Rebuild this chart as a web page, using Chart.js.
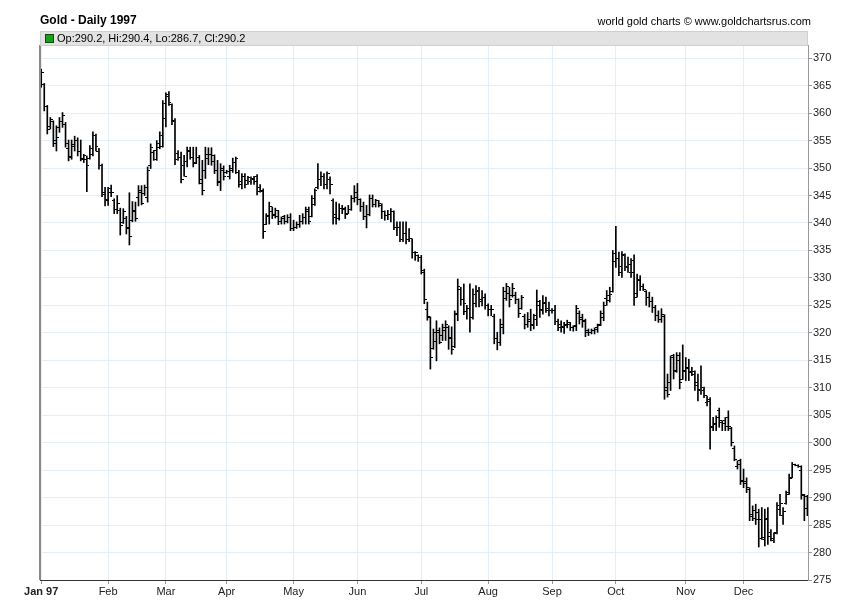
<!DOCTYPE html>
<html>
<head>
<meta charset="utf-8">
<title>Gold - Daily 1997</title>
<script src="https://cdn.jsdelivr.net/npm/chart.js@4.4.0/dist/chart.umd.min.js"></script>
<style>
  body { margin: 0; background: #fff; font-family: "Liberation Sans", Arial, sans-serif; color: #000; }
  #wrap { position: relative; width: 850px; height: 616px; }
  #wrap canvas { position: absolute; left: 0; top: 0; }
  .title { position: absolute; left: 40px; top: 13px; font-size: 12px; font-weight: bold; line-height: 14px; }
  .credit { position: absolute; right: 39px; top: 14px; font-size: 11px; line-height: 14px; }
  .band { position: absolute; left: 40px; top: 31px; width: 766px; height: 13px; background: #e2e2e2; border: 1px solid #cfcfcf; }
  .band .sq { position: absolute; left: 4px; top: 2px; width: 7px; height: 7px; background: #17a017; border: 1px solid #0b4d0b; }
  .band .txt { position: absolute; left: 16px; top: 0; font-size: 11px; line-height: 13px; }
</style>
</head>
<body>
<div id="wrap">
  <canvas id="goldChart" width="850" height="616"></canvas>
  <div class="title">Gold - Daily 1997</div>
  <div class="credit">world gold charts © www.goldchartsrus.com</div>
  <div class="band"><div class="sq"></div><div class="txt">Op:290.2, Hi:290.4, Lo:286.7, Cl:290.2</div></div>
</div>
<script>
// daily bars per month: [open, high, low, close]
const jan = [
  [367.0,368.0,364.7,367.4],[365.2,365.4,360.4,361.2],[361.2,361.4,356.2,357.0],[357.6,359.2,357.1,358.8],
  [358.5,358.6,353.9,354.5],[355.0,357.7,353.1,355.5],[357.4,359.2,356.5,358.5],[358.5,360.1,357.4,359.6],
  [358.0,358.3,353.8,354.5],[353.6,355.1,351.3,352.0],[352.1,355.1,351.6,354.0],[354.2,355.8,353.1,355.0],
  [355.1,355.5,352.2,353.0],[353.0,355.1,351.3,351.5],[351.8,352.5,351.0,352.2],[351.5,352.2,345.7,350.4],
  [351.8,354.1,351.6,353.5],[352.5,356.6,352.2,356.0],[355.9,356.2,353.1,354.0],[353.0,353.6,349.8,350.5],
  [350.5,350.7,344.8,345.5],[345.1,346.5,343.1,344.0]
];
const feb = [
  [344.2,346.5,343.2,345.5],[346.3,346.9,344.8,345.6],[344.0,344.4,341.7,342.5],[342.5,345.0,341.7,343.5],
  [342.3,342.7,337.8,339.5],[340.0,342.6,339.9,342.1],[340.9,341.2,338.0,339.0],[339.2,345.5,336.0,337.5],
  [340.5,343.9,340.2,342.2],[342.0,343.8,340.3,340.9],[344.7,346.8,343.1,346.0],[345.5,346.8,343.3,343.6],
  [345.3,346.9,345.0,346.5],[344.7,350.2,343.8,349.5],[350.5,354.4,349.9,353.8],[352.8,353.2,351.4,351.6],
  [353.2,355.0,351.4,354.5],[353.8,356.6,353.5,356.0],[354.0,362.3,353.8,361.8]
];
const mar = [
  [359.0,363.7,357.5,363.0],[363.4,363.9,361.4,362.0],[361.5,361.7,357.9,358.5],[358.7,359.0,350.6,351.5],
  [352.6,353.2,351.4,352.0],[352.0,352.9,347.3,348.0],[350.5,352.3,348.5,348.5],[351.1,353.8,350.2,353.0],
  [353.2,353.8,351.6,352.0],[352.0,353.8,350.2,350.8],[351.0,353.8,350.8,352.0],[352.0,352.3,347.1,348.0],
  [347.1,351.4,345.1,346.0],[349.6,353.8,348.1,352.5],[351.7,353.7,350.6,352.5],[352.5,353.7,350.5,351.2],
  [352.3,352.4,349.0,349.5],[349.6,351.4,346.8,347.5],[347.3,350.8,345.9,349.5],[349.9,350.4,347.8,348.5]
];
const apr = [
  [349.2,349.6,349.0,349.4],[348.5,350.5,348.0,350.0],[349.5,351.8,349.2,351.0],[351.0,352.0,349.0,351.7],
  [349.2,349.6,346.5,347.5],[347.0,349.0,346.2,348.4],[348.4,349.0,346.4,347.0],[347.8,348.5,347.0,348.2],
  [347.5,348.4,347.0,348.1],[348.0,348.5,347.0,347.6],[348.4,348.8,345.1,345.8],[346.4,347.0,345.6,345.9],
  [345.8,346.2,337.2,338.5],[339.8,341.7,339.7,341.4],[341.1,343.8,339.8,343.0],[342.1,342.9,340.8,341.5],
  [341.3,342.7,340.9,342.2],[341.1,342.3,339.7,340.2],[340.2,341.1,339.8,340.8],[341.1,341.4,339.8,340.2],
  [340.3,341.5,340.0,341.0],[341.0,341.7,338.6,339.0]
];
const may = [
  [339.0,340.5,338.6,339.2],[339.2,340.2,339.0,339.8],[339.8,341.4,339.2,340.2],[340.2,341.7,339.8,341.0],
  [341.0,342.9,339.8,342.5],[342.0,342.9,339.8,340.2],[341.2,345.0,341.1,344.5],[343.3,346.2,343.2,346.0],
  [346.5,350.8,346.2,348.0],[348.0,349.3,346.8,348.5],[348.5,349.0,346.2,347.0],[347.0,349.3,346.2,349.0],
  [348.0,348.4,345.3,347.0],[344.1,344.4,339.8,341.0],[341.5,343.8,339.8,340.9],[340.9,343.5,340.5,342.6],
  [342.6,343.2,341.7,342.7],[342.5,342.9,340.8,341.5],[341.7,343.2,341.7,342.5],[342.5,345.0,342.3,344.4],
  [344.4,346.8,343.8,345.6]
];
const jun = [
  [344.7,347.2,343.3,344.3],[344.3,344.4,342.1,343.0],[343.0,343.8,340.6,341.1],[341.1,343.2,339.1,341.5],
  [341.5,345.1,341.3,344.5],[344.5,345.1,342.9,343.3],[343.3,344.3,342.9,344.0],[344.0,344.1,342.9,343.5],
  [343.2,343.5,340.8,342.1],[342.1,342.2,340.5,341.4],[341.4,342.3,340.6,341.5],[341.5,342.6,340.2,342.1],
  [342.1,342.2,338.8,339.2],[339.2,340.2,337.7,339.1],[339.1,340.2,336.6,337.0],[337.0,340.2,336.6,338.0],
  [338.0,340.2,336.2,337.0],[337.0,339.0,336.6,337.1],[337.1,337.1,333.6,334.6],[334.6,334.8,333.2,334.6],
  [334.0,334.2,333.0,333.8]
];
const jul = [
  [333.8,334.1,330.7,331.0],[331.3,331.6,325.3,326.0],[324.3,325.6,322.3,323.0],[322.7,322.9,313.4,315.5],
  [317.2,320.7,317.0,320.0],[318.5,322.2,314.9,320.5],[320.0,320.9,318.0,318.3],[319.5,321.6,318.6,321.0],
  [320.4,322.2,318.6,321.5],[321.0,321.3,317.0,319.2],[319.0,321.1,316.1,316.9],[317.5,324.0,317.3,323.5],
  [323.3,329.8,322.2,328.5],[327.8,328.3,325.0,326.0],[326.0,328.9,323.3,325.3],[323.9,325.0,322.5,324.5],
  [324.5,328.9,320.1,322.7],[322.8,328.0,322.5,327.0],[325.4,328.6,324.7,327.5],[327.7,328.3,324.7,326.0],
  [325.7,327.7,324.9,326.5],[326.5,327.1,324.3,325.0]
];
const aug = [
  [325.0,325.3,323.1,324.2],[324.2,325.0,323.1,324.3],[323.0,323.4,318.0,319.0],[319.0,320.1,316.9,318.3],
  [318.3,322.5,317.7,321.5],[321.0,328.3,319.8,327.5],[326.2,329.0,325.9,328.5],[327.1,328.3,324.7,326.0],
  [326.8,329.0,326.5,328.0],[326.8,327.4,325.3,326.0],[326.0,326.2,322.8,323.6],[324.5,326.8,324.3,326.5],
  [323.0,323.4,320.7,321.5],[321.5,323.7,321.0,322.5],[322.0,324.3,320.4,321.3],[321.6,323.4,320.7,322.5],
  [323.1,327.8,321.3,325.0],[325.7,325.9,322.8,324.0],[324.2,326.8,323.4,325.5],[325.3,326.5,323.7,324.5],
  [324.0,325.6,323.1,324.0]
];
const sep = [
  [324.0,324.4,323.6,324.0],[324.0,325.0,321.5,322.0],[322.1,322.5,320.4,321.0],[321.6,322.2,320.1,321.0],
  [321.1,321.9,319.9,321.5],[321.3,322.3,320.9,321.8],[321.5,321.9,320.4,321.0],[320.9,321.3,320.3,321.1],
  [321.3,325.0,320.4,324.5],[323.6,324.0,321.6,322.5],[322.8,323.4,321.0,322.0],[322.2,322.5,319.3,320.0],
  [320.4,320.7,319.5,320.0],[320.1,320.7,319.8,320.5],[320.4,320.9,319.8,320.6],[320.9,321.6,320.1,321.3],
  [321.5,324.0,321.3,323.5],[322.8,325.6,322.2,325.0],[326.2,327.7,325.0,326.8],[325.9,328.3,325.6,327.0],
  [327.6,335.0,327.4,334.5]
];
const oct = [
  [333.0,339.4,331.9,333.5],[333.5,334.7,330.4,332.0],[331.0,334.8,330.1,334.0],[334.2,334.4,331.3,332.0],
  [331.9,333.8,331.0,332.5],[331.0,333.5,330.1,331.0],[333.2,334.2,325.0,326.5],[327.1,330.7,326.5,329.5],
  [329.7,330.4,327.7,328.5],[328.5,328.9,327.7,327.9],[327.5,327.7,325.0,326.5],[326.5,327.4,324.7,325.7],
  [325.7,326.5,323.7,324.7],[324.7,325.0,322.2,323.1],[323.1,324.0,321.9,322.4],[322.4,324.4,321.9,323.3],
  [323.0,323.3,307.9,309.5],[310.0,312.5,308.3,308.8],[311.0,315.8,309.5,315.5],[315.8,316.1,311.6,313.0],
  [313.1,316.4,312.8,315.0],[315.8,316.4,309.8,311.0],[311.5,317.8,311.5,313.0]
];
const nov = [
  [313.2,315.5,311.3,313.5],[313.7,315.2,311.3,313.0],[312.8,313.7,312.2,313.0],[312.5,313.1,309.5,310.5],
  [311.0,312.5,307.6,309.5],[309.6,314.0,308.8,310.0],[309.5,310.1,308.2,308.5],[307.3,308.5,306.7,307.5],
  [307.9,308.2,298.8,302.8],[302.9,304.6,302.2,303.5],[303.4,304.9,302.2,304.5],[305.8,306.3,302.8,304.0],
  [303.7,304.0,302.2,303.5],[304.0,304.6,302.2,303.0],[304.5,305.8,302.2,303.0],[302.6,302.8,299.4,300.0],
  [299.0,299.4,296.7,297.0],[295.6,296.7,295.2,296.0],[296.7,297.0,292.4,293.0]
];
const dec = [
  [293.2,295.2,291.8,292.5],[293.0,293.6,290.9,291.5],[291.8,291.8,285.8,286.5],[287.0,288.5,285.8,286.2],
  [287.7,288.8,285.1,286.0],[287.3,287.9,281.0,282.5],[286.0,288.2,282.4,282.4],[282.8,287.9,281.2,286.2],
  [286.0,288.2,281.5,283.6],[283.0,284.2,282.1,282.2],[282.5,283.6,281.8,283.4],[283.6,289.1,283.4,288.5],
  [287.9,290.6,286.7,289.0],[286.7,288.2,285.1,287.5],[288.9,291.2,288.8,290.5],[290.9,294.3,290.6,293.5],
  [293.6,296.4,293.6,296.0],[296.0,296.1,295.8,295.9],[295.8,296.0,295.5,295.6],[294.9,295.8,289.7,290.5],
  [290.3,290.6,285.8,288.0],[290.2,290.4,286.7,290.2]
];

// x axis: first trading day of each month
const monthStarts = [0, 22, 41, 61, 83, 104, 125, 147, 168, 189, 212, 231];
const monthLabels = ['Jan 97', 'Feb', 'Mar', 'Apr', 'May', 'Jun', 'Jul', 'Aug', 'Sep', 'Oct', 'Nov', 'Dec'];
const yTicks = [275, 280, 285, 290, 295, 300, 305, 310, 315, 320, 325, 330, 335, 340, 345, 350, 355, 360, 365, 370];

const bars = [].concat(jan, feb, mar, apr, may, jun, jul, aug, sep, oct, nov, dec);

// small horizontal tick used as point style: open on the left, close on the right
function tickStyle(side) {
  const c = document.createElement('canvas');
  c.width = 5;
  c.height = 1;
  const g = c.getContext('2d');
  g.fillStyle = '#000';
  g.fillRect(side === 'left' ? 0 : 3, 0, 2, 1);
  return c;
}

// left frame line of the plot
const leftFrame = {
  id: 'leftFrame',
  afterDraw(chart) {
    const { ctx, chartArea } = chart;
    ctx.save();
    ctx.strokeStyle = '#8a8a8a';
    ctx.lineWidth = 2;
    ctx.beginPath();
    ctx.moveTo(chartArea.left, chartArea.top);
    ctx.lineTo(chartArea.left, chartArea.bottom);
    ctx.stroke();
    ctx.restore();
  }
};

Chart.defaults.font.family = '"Liberation Sans", Arial, sans-serif';
Chart.defaults.font.size = 11;
Chart.defaults.color = '#222';

const gridColor = '#e3eef9';

new Chart(document.getElementById('goldChart'), {
  type: 'bar',
  data: {
    datasets: [
      {
        type: 'bar',
        data: bars.map((b, i) => ({ x: i, y: [b[2], b[1]] })),
        backgroundColor: '#000',
        borderWidth: 0,
        barThickness: 1,
        order: 2
      },
      {
        type: 'scatter',
        data: bars.map((b, i) => ({ x: i, y: b[0] })),
        pointStyle: tickStyle('left'),
        pointRadius: 2,
        order: 1
      },
      {
        type: 'scatter',
        data: bars.map((b, i) => ({ x: i, y: b[3] })),
        pointStyle: tickStyle('right'),
        pointRadius: 2,
        order: 1
      }
    ]
  },
  options: {
    responsive: false,
    animation: false,
    layout: { padding: { left: 40, top: 45, right: 0, bottom: 0 } },
    plugins: {
      legend: { display: false },
      title: { display: false },
      tooltip: { enabled: false }
    },
    scales: {
      x: {
        type: 'linear',
        min: -0.4,
        max: 252.2,
        offset: false,
        grid: { color: gridColor, offset: false, tickLength: 4, tickColor: '#999' },
        border: { color: '#333', width: 1 },
        afterBuildTicks(scale) { scale.ticks = monthStarts.map(v => ({ value: v })); },
        afterFit(scale) { scale.height = 36; },
        ticks: {
          autoSkip: false,
          maxRotation: 0,
          padding: 1,
          color: '#222',
          font: ctx => ({ size: 11, weight: ctx.index === 0 ? 'bold' : 'normal' }),
          callback: (v, i) => monthLabels[i]
        }
      },
      y: {
        position: 'right',
        min: 275,
        max: 372.4,
        grid: { color: gridColor, tickLength: 4, tickColor: '#999' },
        border: { color: '#999', width: 1 },
        afterBuildTicks(scale) { scale.ticks = yTicks.map(v => ({ value: v })); },
        afterFit(scale) { scale.width = 42; },
        ticks: { padding: 1, color: '#222', font: { size: 11 } }
      }
    }
  },
  plugins: [leftFrame]
});
</script>
</body>
</html>
